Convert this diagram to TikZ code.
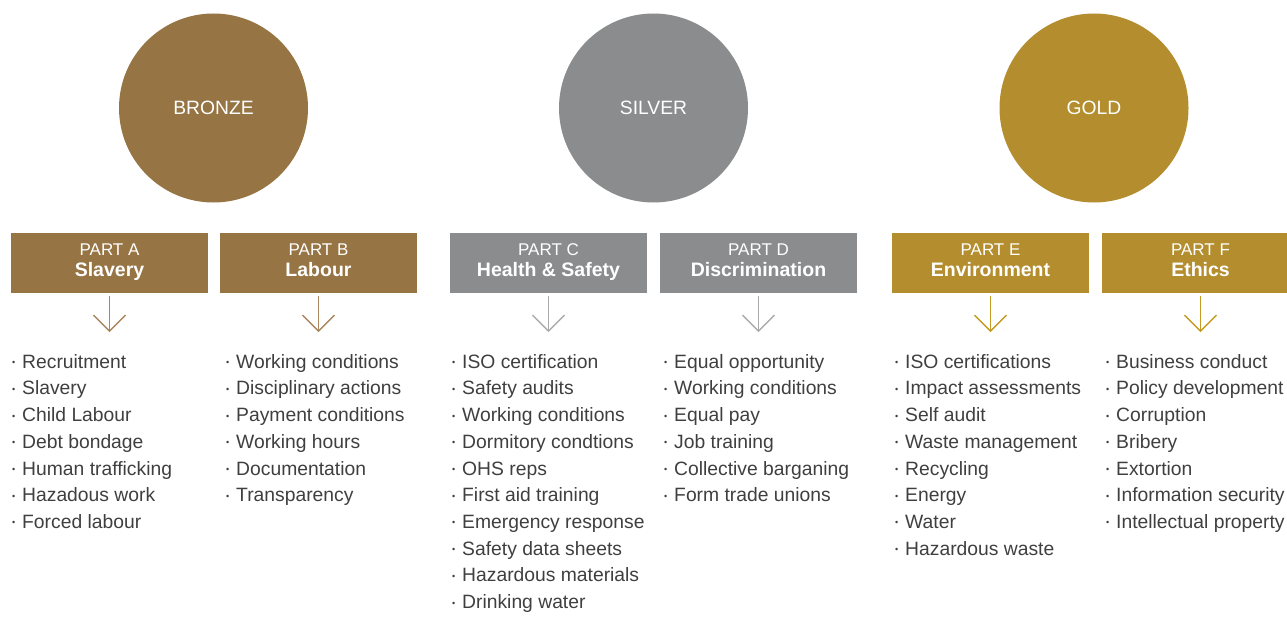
\documentclass[tikz,border=0pt]{standalone}
\usepackage{fontspec}
\setmainfont{Liberation Sans}
\usepackage{tikz}
\usetikzlibrary{positioning,arrows.meta}
\definecolor{bronze}{HTML}{977444}
\definecolor{silver}{HTML}{8A8C8E}
\definecolor{gold}{HTML}{B48E2E}
\definecolor{bronzearr}{HTML}{A8865E}
\definecolor{silverarr}{HTML}{ABABAB}
\definecolor{goldarr}{HTML}{C49A22}
\definecolor{listgray}{HTML}{3F3F3F}
\newcommand{\bul}{\makebox[10pt][l]{\rule{0pt}{15pt}\raisebox{2.5pt}{\fontsize{9}{9}\selectfont\textbullet}}}
\newcommand{\parttitle}[2]{\rule[-4pt]{0pt}{15pt}#1\\{\bfseries\fontsize{19.5}{21}\selectfont\rule[-5pt]{0pt}{15pt}#2}}
\tikzset{
	medal/.style={circle, fill=#1, minimum size=189pt, inner sep=0, text=white, font=\fontsize{19.3}{21}\selectfont},
	partbox/.style={fill=#1, minimum width=197pt, minimum height=60pt, inner sep=0, text=white, align=center, font=\fontsize{17}{21}\selectfont},
	partarrow/.style={draw=#1, line width=1.5pt, -{Straight Barb[length=16pt, width=32pt]}},
	itemlist/.style={anchor=north west, inner sep=0, align=left, text=listgray, font=\fontsize{19.3}{26.7}\selectfont}
}

\begin{document}
\begin{tikzpicture}[x=1pt, y=-1pt]
		\useasboundingbox (0,0) rectangle (1287,623);
		% medals
		\node[medal=bronze] (bronze) at (213.5,108) {BRONZE};
		\node[medal=silver] (silver) at (653.5,108) {SILVER};
		\node[medal=gold] (gold) at (1094,108) {GOLD};
		% parts
		\node[partbox=bronze] (pa) at (109.5,263) {\parttitle{PART A}{Slavery}};
		\node[partbox=bronze] (pb) at (318.5,263) {\parttitle{PART B}{Labour}};
		\node[partbox=silver] (pc) at (548.5,263) {\parttitle{PART C}{Health \& Safety}};
		\node[partbox=silver] (pd) at (758.5,263) {\parttitle{PART D}{Discrimination}};
		\node[partbox=gold] (pe) at (990.5,263) {\parttitle{PART E}{Environment}};
		\node[partbox=gold] (pf) at (1200.5,263) {\parttitle{PART F}{Ethics}};
		% arrows
		\coordinate[below=39pt of pa] (ta);
		\coordinate[below=39pt of pb] (tb);
		\coordinate[below=39pt of pc] (tc);
		\coordinate[below=39pt of pd] (td);
		\coordinate[below=39pt of pe] (te);
		\coordinate[below=39pt of pf] (tf);
		\draw[partarrow=bronzearr] ([yshift=-3pt]pa.south) -- (ta);
		\draw[partarrow=bronzearr] ([yshift=-3pt]pb.south) -- (tb);
		\draw[partarrow=silverarr] ([yshift=-3pt]pc.south) -- (tc);
		\draw[partarrow=silverarr] ([yshift=-3pt]pd.south) -- (td);
		\draw[partarrow=goldarr] ([yshift=-3pt]pe.south) -- (te);
		\draw[partarrow=goldarr] ([yshift=-3pt]pf.south) -- (tf);
		% lists
		\node[itemlist] (la) at (12,353) {\bul Recruitment\\\bul Slavery\\\bul Child Labour\\\bul Debt bondage\\\bul Human trafficking\\\bul Hazadous work\\\bul Forced labour};
		\node[itemlist] (lb) at (226,353) {\bul Working conditions\\\bul Disciplinary actions\\\bul Payment conditions\\\bul Working hours\\\bul Documentation\\\bul Transparency};
		\node[itemlist] (lc) at (452,353) {\bul ISO certification\\\bul Safety audits\\\bul Working conditions\\\bul Dormitory condtions\\\bul OHS reps\\\bul First aid training\\\bul Emergency response\\\bul Safety data sheets\\\bul Hazardous materials\\\bul Drinking water};
		\node[itemlist] (ld) at (664,353) {\bul Equal opportunity\\\bul Working conditions\\\bul Equal pay\\\bul Job training\\\bul Collective barganing\\\bul Form trade unions};
		\node[itemlist] (le) at (895,353) {\bul ISO certifications\\\bul Impact assessments\\\bul Self audit\\\bul Waste management\\\bul Recycling\\\bul Energy\\\bul Water\\\bul Hazardous waste};
		\node[itemlist] (lf) at (1106,353) {\bul Business conduct\\\bul Policy development\\\bul Corruption\\\bul Bribery\\\bul Extortion\\\bul Information security\\\bul Intellectual property};
	\end{tikzpicture}
\end{document}
